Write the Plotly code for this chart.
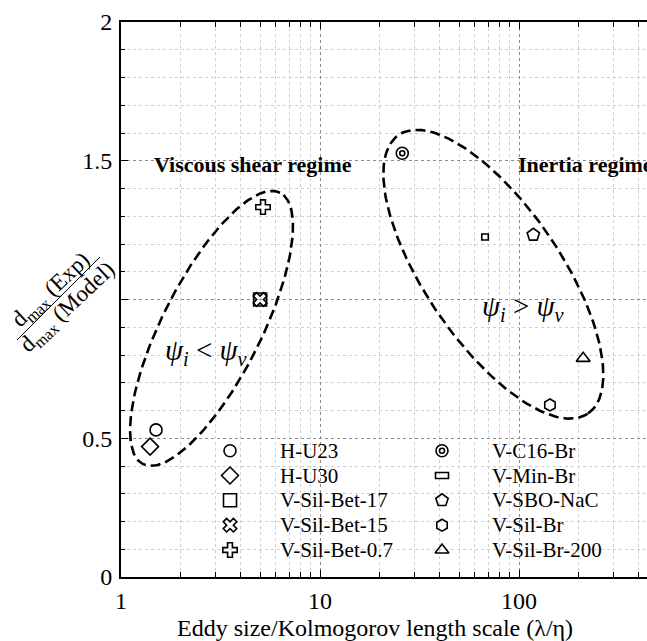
import numpy as np
import plotly.graph_objects as go

# ---------------- data ----------------
names = ["H-U23", "H-U30", "V-Sil-Bet-17", "V-Sil-Bet-15", "V-Sil-Bet-0.7",
         "V-C16-Br", "V-Min-Br", "V-SBO-NaC", "V-Sil-Br", "V-Sil-Br-200"]
eddy_ratio = [1.50, 1.40, 5.0, 5.0, 5.17, 25.9, 65.0, 118.0, 143.0, 210.0]
dmax_ratio = [0.53, 0.47, 1.0, 1.0, 1.333, 1.527, 1.225, 1.233, 0.62, 0.788]

x_tick_vals = [1, 10, 100]
x_tick_text = ["1", "10", "100"]
y_tick_vals = [0, 0.5, 1, 1.5, 2]
y_tick_text = ["0", "0.5", "", "1.5", "2"]

# ---------------- geometry / style ----------------
W, H = 647, 641
ML, MR, MT, MB = 121, 0, 22, 64
PW, PH = W - ML - MR, H - MT - MB
X_MAX_LOG = 2.643
Y_MAX = 2.0
PX_PER_DECADE = PW / X_MAX_LOG
PX_PER_UNIT_Y = PH / Y_MAX

FONT = "Liberation Serif"
LW = 1.6

# marker symbol / size per series ("ring" and "rect" are composite glyphs)
styles = {
    "H-U23": ("circle-open", 12),
    "H-U30": ("diamond-open", 13),
    "V-Sil-Bet-17": ("square-open", 13),
    "V-Sil-Bet-15": ("x-open", 12),
    "V-Sil-Bet-0.7": ("cross-open", 12),
    "V-C16-Br": ("ring", 12),
    "V-Min-Br": ("rect", 13),
    "V-SBO-NaC": ("pentagon-open", 13),
    "V-Sil-Br": ("hexagon-open", 12),
    "V-Sil-Br-200": ("triangle-up-open", 12),
}


def px_to_paper(px, py):
    return (px - ML) / PW, (H - MB - py) / PH


fig = go.Figure()
shapes = []


def add_glyph(name, x, y, xaxis="x", yaxis="y", xref="x", yref="y", legend_trace=False):
    sym, size = styles[name]
    common = dict(mode="markers", showlegend=False, xaxis=xaxis, yaxis=yaxis,
                  hoverinfo="skip" if legend_trace else None, name=name)
    if sym == "rect":
        # small open rectangle, sized in pixels around the data point
        fig.add_trace(go.Scatter(x=[x], y=[y], marker=dict(size=1, opacity=0), **common))
        shapes.append(dict(type="rect", xref=xref, yref=yref,
                           xsizemode="pixel", ysizemode="pixel",
                           xanchor=x, yanchor=y, x0=-6.5, x1=6.5, y0=-3, y1=3,
                           line=dict(color="black", width=LW), layer="above"))
    elif sym == "ring":
        # concentric double circle
        for s in (size, 5):
            fig.add_trace(go.Scatter(x=[x], y=[y], marker=dict(
                symbol="circle-open", size=s, color="black", line=dict(width=LW)), **common))
    else:
        fig.add_trace(go.Scatter(x=[x], y=[y], marker=dict(
            symbol=sym, size=size, color="black", line=dict(width=LW)), **common))


# ---------------- regime ellipses ----------------
def ellipse(xc, yc, a_px, b_px, angle_deg, n=240):
    t = np.linspace(0, 2 * np.pi, n)
    th = np.radians(angle_deg)
    dx = a_px * np.cos(th) * np.cos(t) - b_px * np.sin(th) * np.sin(t)
    dy = a_px * np.sin(th) * np.cos(t) + b_px * np.cos(th) * np.sin(t)
    return xc * 10 ** (dx / PX_PER_DECADE), yc + dy / PX_PER_UNIT_Y


for (xc, yc, a, b, ang) in [(2.85, 0.896, 152, 49.4, 63.2),
                            (74.3, 1.091, 168.4, 67.7, -55.8)]:
    ex, ey = ellipse(xc, yc, a, b, ang)
    fig.add_trace(go.Scatter(x=ex, y=ey, mode="lines", showlegend=False, hoverinfo="skip",
                             line=dict(color="black", width=2.6, dash="10px,5px")))

# ---------------- data points ----------------
for n, xv, yv in zip(names, eddy_ratio, dmax_ratio):
    add_glyph(n, xv, yv)

# ---------------- legend (two columns of five) ----------------
legend_cols_px = [230, 442]
legend_rows_px = [450.7, 475.5, 500.3, 525.2, 550.0]
legend_text_gap = 48
annotations = []
for i, n in enumerate(names):
    col, row = divmod(i, 5)
    lx, ly = px_to_paper(legend_cols_px[col], legend_rows_px[row])
    add_glyph(n, lx, ly, xaxis="x2", yaxis="y2", xref="x2", yref="y2", legend_trace=True)
    tx, _ = px_to_paper(legend_cols_px[col] + legend_text_gap, 0)
    annotations.append(dict(x=tx, y=ly, xref="x2", yref="y2", text=n, showarrow=False,
                            xanchor="left", yanchor="middle",
                            font=dict(family=FONT, size=21, color="black")))

# ---------------- text labels ----------------
NB = "\u00a0"
annotations += [
    dict(x=np.log10(1.43), y=1.485, xref="x", yref="y", text="<b>Viscous shear regime</b>",
         showarrow=False, xanchor="left", yanchor="middle",
         font=dict(family=FONT, size=22, color="black")),
    dict(x=np.log10(96.6), y=1.485, xref="x", yref="y", text="<b>Inertia regime</b>",
         showarrow=False, xanchor="left", yanchor="middle",
         font=dict(family=FONT, size=22, color="black")),
    dict(x=0.427, y=0.812, xref="x", yref="y", xanchor="center", yanchor="middle",
         text=f"<i>ψ<sub>i</sub></i>{NB}<{NB}<i>ψ<sub>v</sub></i>",
         showarrow=False, font=dict(family=FONT, size=29, color="black")),
    dict(x=2.018, y=0.969, xref="x", yref="y", xanchor="center", yanchor="middle",
         text=f"<i>ψ<sub>i</sub></i>{NB}>{NB}<i>ψ<sub>v</sub></i>",
         showarrow=False, font=dict(family=FONT, size=29, color="black")),
]

# x-axis title
tx, ty = px_to_paper(375, 628)
annotations.append(dict(x=tx, y=ty, xref="paper", yref="paper", xanchor="center",
                        yanchor="middle",
                        text="Eddy size/Kolmogorov length scale (λ/η)", showarrow=False,
                        font=dict(family=FONT, size=24, color="black")))

# y-axis title: rotated fraction
ANG = -43
ux, uy = px_to_paper(51, 291)
lx_, ly_ = px_to_paper(68, 308)
annotations += [
    dict(x=ux, y=uy, xref="paper", yref="paper", xanchor="center", yanchor="middle",
         text="d<sub>max</sub> (Exp)", textangle=ANG, showarrow=False,
         font=dict(family=FONT, size=23, color="black")),
    dict(x=lx_, y=ly_, xref="paper", yref="paper", xanchor="center", yanchor="middle",
         text="d<sub>max</sub> (Model)", textangle=ANG, showarrow=False,
         font=dict(family=FONT, size=23, color="black")),
]
p0 = px_to_paper(17, 340)
p1 = px_to_paper(100, 257)
shapes.append(dict(type="line", xref="paper", yref="paper", x0=p0[0], y0=p0[1],
                   x1=p1[0], y1=p1[1], line=dict(color="black", width=1)))

# ---------------- axes ----------------
minor_x = [m * 10 ** d for d in range(3) for m in range(2, 10)]
grid_major = "#8c8c8c"
grid_minor = "#cfcfcf"

fig.update_layout(
    width=W, height=H,
    margin=dict(l=ML, r=MR, t=MT, b=MB, pad=0),
    paper_bgcolor="white", plot_bgcolor="white",
    font=dict(family=FONT, size=24, color="black"),
    showlegend=False,
    xaxis=dict(type="log", range=[0, X_MAX_LOG], tickvals=x_tick_vals, ticktext=x_tick_text,
               showline=True, linecolor="black", linewidth=2, mirror="allticks",
               ticks="inside", ticklen=7, tickwidth=1, tickcolor="black",
               ticklabelstandoff=1,
               showgrid=True, gridcolor=grid_major, griddash="dot", gridwidth=1,
               zeroline=False, tickfont=dict(family=FONT, size=24),
               minor=dict(tickvals=minor_x, ticks="inside", ticklen=5, tickcolor="black",
                          showgrid=True, gridcolor=grid_minor, griddash="dot", gridwidth=1)),
    yaxis=dict(range=[0, Y_MAX], tickvals=y_tick_vals, ticktext=y_tick_text,
               showline=True, linecolor="black", linewidth=2, mirror=False,
               ticks="inside", ticklen=7, tickwidth=1, tickcolor="black",
               ticklabelstandoff=2,
               showgrid=True, gridcolor=grid_major, griddash="dot", gridwidth=1,
               zeroline=False, tickfont=dict(family=FONT, size=24),
               minor=dict(dtick=0.1, ticks="inside", ticklen=4, tickcolor="black",
                          showgrid=True, gridcolor=grid_minor, griddash="dot", gridwidth=1)),
    xaxis2=dict(overlaying="x", range=[0, 1], visible=False, fixedrange=True),
    yaxis2=dict(overlaying="y", range=[0, 1], visible=False, fixedrange=True),
    annotations=annotations,
    shapes=shapes,
)

fig.write_html("out.html")
